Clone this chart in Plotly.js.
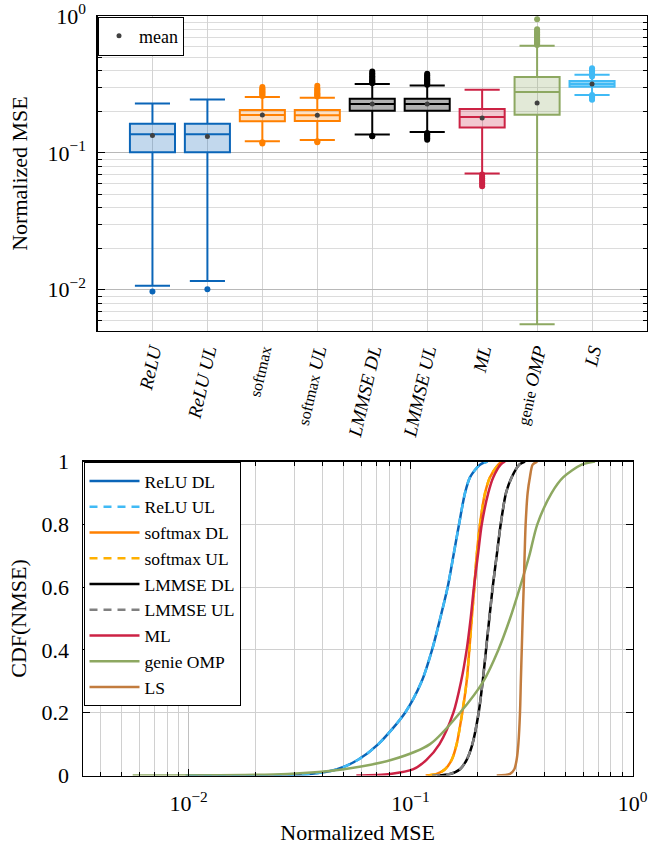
<!DOCTYPE html>
<html><head><meta charset="utf-8">
<script src="https://cdn.plot.ly/plotly-3.0.1.min.js"></script>
<style>html,body{margin:0;padding:0;background:#fff}</style>
</head><body><div id="chart" style="width:649px;height:848px"></div>
<script>
// ---------- Box plot data (top) ----------
const categories = ['<i>ReLU</i>', '<i>ReLU UL</i>', '<span style="font-size:16px">softmax</span>', '<span style="font-size:16px">softmax</span> <i>UL</i>',
  '<i>LMMSE DL</i>', '<i>LMMSE UL</i>', '<i>ML</i>', '<span style="font-size:16px">genie</span> <i>OMP</i>', '<i>LS</i>'];
const boxLowerFence = [0.0107, 0.0116, 0.1215, 0.124, 0.136, 0.142, 0.0707, 0.0056, 0.2645];
const boxQ1         = [0.101, 0.101, 0.170, 0.171, 0.203, 0.203, 0.153, 0.190, 0.304];
const boxMedian     = [0.137, 0.137, 0.189, 0.188, 0.2275, 0.2275, 0.183, 0.278, 0.318];
const boxQ3         = [0.163, 0.163, 0.2056, 0.2056, 0.2485, 0.2485, 0.209, 0.358, 0.335];
const boxUpperFence = [0.230, 0.246, 0.256, 0.253, 0.318, 0.311, 0.289, 0.6075, 0.3717];
const boxMean       = [0.134, 0.132, 0.189, 0.188, 0.2275, 0.2275, 0.180, 0.231, 0.318];
const boxOutliers = [
  [0.0097],
  [0.0101],
  [0.26, 0.265, 0.27, 0.275, 0.28, 0.285, 0.29, 0.295, 0.3025, 0.1195, 0.1169],
  [0.258, 0.263, 0.268, 0.273, 0.279, 0.285, 0.29, 0.297, 0.309, 0.1215, 0.1195],
  [0.322, 0.328, 0.334, 0.34, 0.347, 0.355, 0.363, 0.372, 0.382, 0.3928, 0.133, 0.1321],
  [0.315, 0.32, 0.326, 0.332, 0.338, 0.345, 0.352, 0.36, 0.369, 0.378, 0.1398, 0.137, 0.134, 0.131, 0.128, 0.125],
  [0.0695, 0.067, 0.065, 0.063, 0.061, 0.059, 0.0571],
  [0.615, 0.625, 0.635, 0.645, 0.655, 0.665, 0.675, 0.69, 0.705, 0.72, 0.735, 0.75, 0.765, 0.78, 0.8, 0.946],
  [0.3613, 0.372, 0.383, 0.394, 0.405, 0.416, 0.2645, 0.259, 0.254, 0.249, 0.2445]
];
const boxTickVals = [0.01, 0.1, 1];
const boxTickText = ['10<sup>\u22122</sup>', '10<sup>\u22121</sup>', '10<sup>0</sup>'];

// ---------- CDF data (bottom) ----------
const cdfLevels = [0, 0.005, 0.02, 0.05, 0.1, 0.2, 0.3, 0.4, 0.5, 0.6, 0.7, 0.8, 0.9, 0.95, 0.99, 1];
const cdfNames = ['ReLU DL', 'ReLU UL', 'softmax DL', 'softmax UL', 'LMMSE DL', 'LMMSE UL', 'ML', 'genie OMP', 'LS'];
const cdfReluDL     = [0.0097, 0.0352, 0.0467, 0.058, 0.0716, 0.0945, 0.1123, 0.125, 0.136, 0.147, 0.156, 0.1654, 0.176, 0.1855, 0.2055, 0.222];
const cdfReluUL     = [0.0101, 0.0355, 0.047, 0.058, 0.0716, 0.0945, 0.1123, 0.125, 0.136, 0.147, 0.156, 0.1654, 0.176, 0.1855, 0.2055, 0.222];
const cdfSoftmaxDL  = [0.117, 0.131, 0.143, 0.1533, 0.1614, 0.171, 0.179, 0.184, 0.1887, 0.1938, 0.1986, 0.2055, 0.2167, 0.228, 0.2486, 0.258];
const cdfSoftmaxUL  = [0.1195, 0.132, 0.143, 0.1533, 0.1614, 0.171, 0.179, 0.184, 0.1887, 0.1938, 0.1986, 0.2055, 0.2167, 0.228, 0.2486, 0.258];
const cdfLmmseDL    = [0.132, 0.1507, 0.167, 0.179, 0.190, 0.2027, 0.2114, 0.2188, 0.2264, 0.2345, 0.2444, 0.2548, 0.2693, 0.2857, 0.309, 0.328];
const cdfLmmseUL    = [0.125, 0.1507, 0.167, 0.179, 0.190, 0.2027, 0.2114, 0.2188, 0.2264, 0.2345, 0.2444, 0.2548, 0.2693, 0.2857, 0.309, 0.328];
const cdfML         = [0.057, 0.081, 0.103, 0.118, 0.135, 0.156, 0.169, 0.179, 0.1866, 0.193, 0.201, 0.2094, 0.224, 0.236, 0.2547, 0.2666];
const cdfGenieOMP   = [0.0056, 0.028, 0.05, 0.0823, 0.1224, 0.167, 0.2128, 0.2486, 0.2807, 0.3113, 0.3428, 0.3725, 0.4325, 0.488, 0.59, 0.678];
const cdfLS         = [0.2445, 0.2807, 0.2934, 0.3006, 0.306, 0.3113, 0.314, 0.317, 0.320, 0.3235, 0.3265, 0.330, 0.337, 0.345, 0.355, 0.3725];
const cdfSeries = [cdfReluDL, cdfReluUL, cdfSoftmaxDL, cdfSoftmaxUL, cdfLmmseDL, cdfLmmseUL, cdfML, cdfGenieOMP, cdfLS];
const cdfTickVals = [0.01, 0.1, 1];
const cdfTickText = ['10<sup>\u22122</sup>', '10<sup>\u22121</sup>', '10<sup>0</sup>'];

// ---------- styles ----------
const FONT = 'Liberation Serif, Times New Roman, serif';
const boxLine = ['#0a65b8', '#0a65b8', '#ff8000', '#ff8000', '#000000', '#000000', '#cc2244', '#8da861', '#40baf5'];
const boxFill = ['rgba(10,101,184,0.25)', 'rgba(10,101,184,0.25)', 'rgba(255,128,0,0.25)', 'rgba(255,128,0,0.25)',
  'rgba(0,0,0,0.3)', 'rgba(0,0,0,0.3)', 'rgba(204,34,68,0.25)', 'rgba(141,168,97,0.25)', 'rgba(64,186,245,0.6)'];
const cdfColor = ['#0a65b8', '#40baf5', '#ff8000', '#ffb000', '#000000', '#808080', '#cc2244', '#8da861', '#c27c3e'];
const cdfDash = ['solid', '8px,6px', 'solid', '8px,6px', 'solid', '8px,6px', 'solid', 'solid', 'solid'];

const traces = [];
categories.forEach((c, i) => {
  traces.push({
    type: 'box', x: [c], q1: [boxQ1[i]], median: [boxMedian[i]], q3: [boxQ3[i]],
    lowerfence: [boxLowerFence[i]], upperfence: [boxUpperFence[i]],
    boxpoints: false, width: 0.82, whiskerwidth: 0.78,
    line: {color: boxLine[i], width: 2}, fillcolor: boxFill[i],
    xaxis: 'x', yaxis: 'y', showlegend: false, hoverinfo: 'skip'
  });
  traces.push({
    type: 'scatter', mode: 'markers', x: boxOutliers[i].map(() => c), y: boxOutliers[i],
    marker: {color: boxLine[i], size: 6}, xaxis: 'x', yaxis: 'y', showlegend: false, hoverinfo: 'skip'
  });
});
traces.push({
  type: 'scatter', mode: 'markers', name: 'mean', x: categories, y: boxMean,
  marker: {color: '#404040', size: 5}, xaxis: 'x', yaxis: 'y', legend: 'legend', showlegend: true
});
cdfSeries.forEach((s, i) => {
  traces.push({
    type: 'scatter', mode: 'lines', name: cdfNames[i], x: s, y: cdfLevels,
    line: {color: cdfColor[i], width: 2.5, dash: cdfDash[i], shape: 'spline', smoothing: 0.8},
    xaxis: 'x2', yaxis: 'y2', legend: 'legend2'
  });
});

const W = 649, H = 848;
const px = (a, b) => [a / W, b / W];
const py = (top, bottom) => [(H - bottom) / H, (H - top) / H];
const tf = {family: FONT, size: 22, color: '#000'};

const layout = {
  width: W, height: H, margin: {l: 0, r: 0, t: 0, b: 0},
  paper_bgcolor: '#fff', plot_bgcolor: '#fff',
  font: {family: FONT, color: '#000'},
  boxmode: 'overlay',
  xaxis: {
    domain: px(97.5, 647), anchor: 'y', type: 'category', categoryorder: 'array', categoryarray: categories,
    range: [-1, 9], tickangle: -77, showgrid: true, gridcolor: '#d3d3d3', gridwidth: 1,
    showline: true, mirror: true, linecolor: '#000', linewidth: 1.2, ticks: '', zeroline: false,
    tickfont: {family: FONT, size: 19, color: '#000'}, automargin: false
  },
  yaxis: {
    domain: py(16, 331), anchor: 'x', type: 'log', range: [Math.log10(0.005), 0],
    tickmode: 'array', tickvals: boxTickVals, ticktext: boxTickText,
    ticks: 'inside', ticklen: 7, tickcolor: '#000', showgrid: true, gridcolor: '#b8b8b8',
    minor: {dtick: 'D1', ticks: 'inside', ticklen: 4, tickcolor: '#000', showgrid: true, gridcolor: '#dcdcdc'},
    showline: true, mirror: 'ticks', linecolor: '#000', linewidth: 1.2, zeroline: false,
    tickfont: tf, ticklabelstandoff: 6, automargin: false,
    title: {text: 'Normalized MSE', font: tf, standoff: 13}
  },
  xaxis2: {
    domain: px(82.7, 632.5), anchor: 'y2', type: 'log', range: [-2.477, 0],
    tickmode: 'array', tickvals: cdfTickVals, ticktext: cdfTickText,
    ticks: 'inside', ticklen: 7, tickcolor: '#000', showgrid: true, gridcolor: '#c0c0c0',
    minor: {dtick: 'D1', ticks: 'inside', ticklen: 4, tickcolor: '#000', showgrid: true, gridcolor: '#d0d0d0'},
    showline: true, mirror: 'ticks', linecolor: '#000', linewidth: 1.2, zeroline: false,
    tickfont: tf, ticklabelstandoff: 8, automargin: false,
    title: {text: 'Normalized MSE', font: tf, standoff: 9}
  },
  yaxis2: {
    domain: py(461.5, 775.5), anchor: 'x2', range: [0, 1], dtick: 0.2,
    ticks: 'inside', ticklen: 7, tickcolor: '#000', showgrid: true, gridcolor: '#d0d0d0',
    showline: true, mirror: 'ticks', linecolor: '#000', linewidth: 1.2, zeroline: false,
    tickfont: tf, ticklabelstandoff: 8, automargin: false,
    title: {text: 'CDF(NMSE)', font: tf, standoff: 8}
  },
  legend: {
    x: 98 / W, y: (H - 16.5) / H, xanchor: 'left', yanchor: 'top',
    bgcolor: '#fff', bordercolor: '#000', borderwidth: 1,
    font: {family: FONT, size: 18, color: '#000'}, itemwidth: 30
  },
  legend2: {
    x: 83.5 / W, y: (H - 462) / H, xanchor: 'left', yanchor: 'top',
    bgcolor: '#fff', bordercolor: '#000', borderwidth: 1,
    font: {family: FONT, size: 17.5, color: '#000'}, tracegroupgap: 0, itemwidth: 50
  },
  showlegend: true
};

Plotly.newPlot('chart', traces, layout, {displayModeBar: false, staticPlot: true});
</script>
</body></html>
